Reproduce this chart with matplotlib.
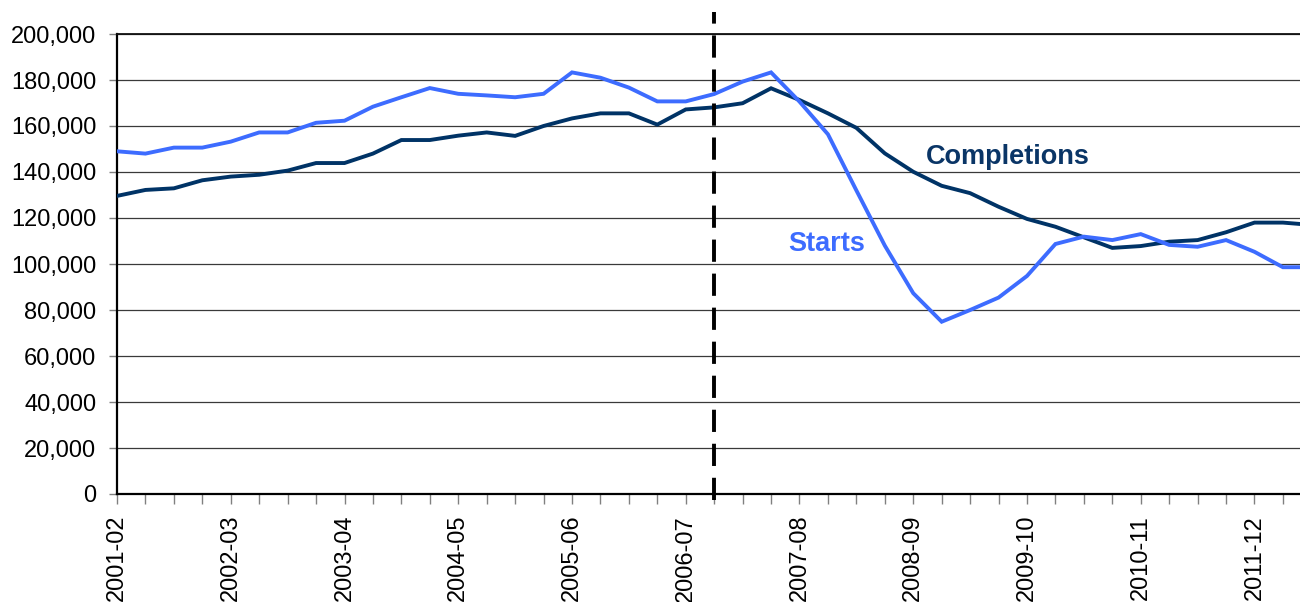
import matplotlib
matplotlib.use("Agg")
import matplotlib.pyplot as plt
from matplotlib.ticker import FuncFormatter, MultipleLocator

plt.rcParams['font.family'] = ['Liberation Sans', 'DejaVu Sans']
plt.rcParams['lines.scale_dashes'] = False

# Quarterly data, first quarter of 2001-02 onward
year_labels = ['2001-02', '2002-03', '2003-04', '2004-05', '2005-06', '2006-07',
               '2007-08', '2008-09', '2009-10', '2010-11', '2011-12']
starts = [149.0, 148.0, 150.6, 150.6, 153.2, 157.2, 157.2, 161.4, 162.3, 168.4,
          172.5, 176.5, 174.0, 173.3, 172.5, 174.0, 183.3, 181.0, 176.7, 170.7,
          170.7, 173.9, 179.3, 183.3, 170.6, 156.4, 132.0, 108.0, 87.3, 74.9,
          80.0, 85.4, 94.8, 108.7, 111.9, 110.4, 113.0, 108.3, 107.5, 110.4,
          105.3, 98.6, 98.6]
completions = [129.6, 132.2, 132.9, 136.4, 138.0, 138.8, 140.6, 143.9, 143.9, 148.0,
               153.9, 153.9, 155.8, 157.2, 155.7, 160.0, 163.3, 165.5, 165.5, 160.6,
               167.2, 168.1, 169.9, 176.4, 171.3, 165.5, 159.2, 148.1, 140.1, 134.0,
               130.8, 124.9, 119.6, 116.2, 111.6, 107.0, 107.8, 109.7, 110.4, 113.8,
               118.0, 118.0, 117.0]
starts_vals = [v * 1000 for v in starts]
completions_vals = [v * 1000 for v in completions]
divider_quarter = 21  # dashed vertical marker

W, H = 1300, 602
fig = plt.figure(figsize=(W / 100, H / 100), dpi=100)
ax = fig.add_axes([117 / W, (H - 494) / H, (W - 117) / W, 460 / H])

x = list(range(len(starts_vals)))
ax.plot(x, completions_vals, color='#003366', lw=2.8, solid_joinstyle='miter', zorder=3)
ax.plot(x, starts_vals, color='#3d6cff', lw=2.8, solid_joinstyle='miter', zorder=4)

ax.set_xlim(0, 41.6)
ax.set_ylim(0, 200000)

# grid
ax.yaxis.set_major_locator(MultipleLocator(20000))
ax.yaxis.grid(True, color='#3a3a3a', lw=0.9)
ax.set_axisbelow(True)
ax.yaxis.set_major_formatter(FuncFormatter(lambda v, p: f"{int(v):,}"))

# x ticks: every quarter, labels every 4th
ax.set_xticks(range(0, 42))
labels = []
for i in range(0, 42):
    labels.append(year_labels[i // 4] if i % 4 == 0 else '')
ax.set_xticklabels(labels, rotation=90, va='top', ha='center')

ax.tick_params(axis='both', labelsize=17, colors='#000000')
ax.tick_params(axis='y', length=6, width=1.0, color='#808080', pad=9, direction='out')
ax.tick_params(axis='x', length=7, width=1.0, color='#808080', pad=8, direction='out')

ax.spines['right'].set_visible(False)
ax.spines['top'].set_color('#111111')
ax.spines['top'].set_linewidth(1.3)
ax.spines['left'].set_linewidth(1.6)
ax.spines['bottom'].set_linewidth(1.6)
ax.spines['left'].set_color('#000000')
ax.spines['bottom'].set_color('#000000')

# dashed divider
ax.plot([divider_quarter, divider_quarter], [-2500, 209500], color='black', lw=2.8,
        linestyle=(0, (16, 8.5)), clip_on=False, zorder=5)

ax.text(28.45, 146500, 'Completions', color='#0a3566', fontsize=19.5,
        fontweight='bold', ha='left', va='center')
ax.text(23.6, 108500, 'Starts', color='#3d6cff', fontsize=19.5,
        fontweight='bold', ha='left', va='center')

fig.savefig('out.png', dpi=100)
